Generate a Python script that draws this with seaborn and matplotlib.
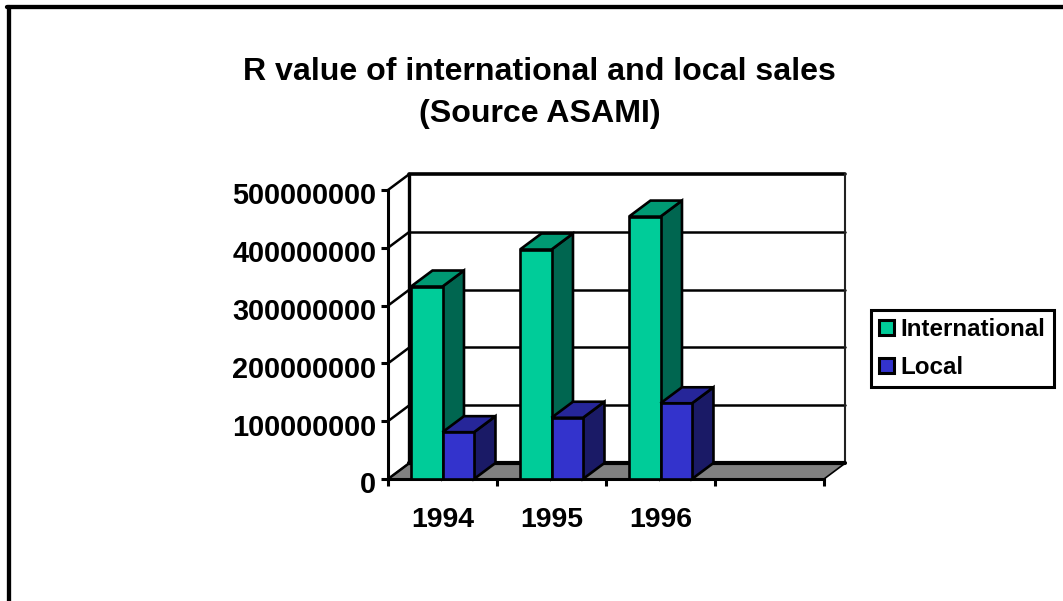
import matplotlib
matplotlib.use("Agg")
import matplotlib.pyplot as plt
import matplotlib.transforms as mtrans
from matplotlib.lines import Line2D
from matplotlib.patches import Polygon
import pandas as pd
import seaborn as sns

years = ["1994", "1995", "1996"]
international = [333000000, 397000000, 454000000]
local = [81000000, 106000000, 131000000]
series_names = ["International", "Local"]
y_ticks = [0, 100000000, 200000000, 300000000, 400000000, 500000000]

front_colors = {"International": "#00CC99", "Local": "#3333CC"}
top_colors = {"International": "#009973", "Local": "#262699"}
side_colors = {"International": "#006650", "Local": "#1A1A66"}

# depth of the fake 3d box, in data units
DEPTH_X = 0.197
DEPTH_Y = 27700000
EDGE = 1.9

sns.set_theme(style="white")
plt.rcParams["font.family"] = ["Liberation Sans", "DejaVu Sans"]
plt.rcParams["font.weight"] = "bold"

df = pd.DataFrame({
    "year": years * 2,
    "sales": international + local,
    "kind": [series_names[0]] * 3 + [series_names[1]] * 3,
})

W, H = 1063, 601
fig = plt.figure(figsize=(W / 100, H / 100), dpi=100)
ax = fig.add_axes([388 / W, 1 - 479 / H, 436 / W, 289 / H])
ax.patch.set_alpha(0)

sns.barplot(data=df, x="year", y="sales", hue="kind", order=years + [""],
            hue_order=series_names, palette=front_colors, saturation=1,
            width=0.578, gap=0, edgecolor="black", linewidth=EDGE, ax=ax)
ax.set_xlim(-0.5, 3.5)
ax.set_ylim(0, 500000000)
ax.set_xlabel("")
ax.set_ylabel("")

# floor and back wall
left, right = ax.get_xlim()
ax.add_patch(Polygon([(left, 0), (right, 0), (right + DEPTH_X, DEPTH_Y), (left + DEPTH_X, DEPTH_Y)],
                     closed=True, facecolor="#808080", edgecolor="black", linewidth=1.2,
                     zorder=1, clip_on=False))
ax.plot([left + DEPTH_X, right + DEPTH_X], [DEPTH_Y, DEPTH_Y], color="black", lw=3, zorder=1.1, clip_on=False)
for val in y_ticks[1:]:
    lw = 2.6 if val == y_ticks[-1] else 1.8
    ax.plot([left + DEPTH_X, right + DEPTH_X], [val + DEPTH_Y, val + DEPTH_Y],
            color="black", lw=lw, zorder=1, clip_on=False)
for val in y_ticks:
    ax.plot([left, left + DEPTH_X], [val, val + DEPTH_Y], color="black", lw=1.8, zorder=1, clip_on=False)
ax.plot([left + DEPTH_X] * 2, [DEPTH_Y, y_ticks[-1] + DEPTH_Y], color="black", lw=2.4, zorder=1, clip_on=False)
ax.plot([right + DEPTH_X] * 2, [DEPTH_Y, y_ticks[-1] + DEPTH_Y], color="#222222", lw=1.5, zorder=1, clip_on=False)

# give each bar its top and side faces, left to right
for s, (name, container) in enumerate(zip(series_names, ax.containers)):
    for i, bar in enumerate(container):
        x0, w, h = bar.get_x(), bar.get_width(), bar.get_height()
        if pd.isna(h):
            continue
        z = 3 + i * 3 + s * 1.5
        x1 = x0 + w
        ax.add_patch(Polygon([(x1, 0), (x1 + DEPTH_X, DEPTH_Y), (x1 + DEPTH_X, h + DEPTH_Y), (x1, h)],
                             closed=True, facecolor=side_colors[name], edgecolor="black",
                             linewidth=EDGE, zorder=z, clip_on=False))
        ax.add_patch(Polygon([(x0, h), (x1, h), (x1 + DEPTH_X, h + DEPTH_Y), (x0 + DEPTH_X, h + DEPTH_Y)],
                             closed=True, facecolor=top_colors[name], edgecolor="black",
                             linewidth=EDGE, zorder=z, clip_on=False))
        bar.set_zorder(z + 0.5)
        bar.set_clip_on(False)

sns.despine(ax=ax)
for side in ["left", "bottom"]:
    ax.spines[side].set_linewidth(2.2)
    ax.spines[side].set_color("black")
    ax.spines[side].set_zorder(2)

ax.set_yticks(y_ticks)
ax.set_yticklabels([str(v) for v in y_ticks])
ax.tick_params(axis="y", length=5, width=2.2, color="black", left=True, pad=3.4, labelsize=20.8, labelcolor="black")
ax.set_xticks(range(4))
ax.set_xticklabels(years + [""])
ax.set_xticks([k - 0.5 for k in range(5)], minor=True)
ax.tick_params(axis="x", which="major", length=0, pad=20, labelsize=20.4, labelcolor="black")
ax.tick_params(axis="x", which="minor", length=5, width=2.2, color="black", bottom=True)

# y labels sit a little under their ticks in the original
shift = mtrans.ScaledTranslation(0, -2.5 / 72, fig.dpi_scale_trans)
for lab in ax.get_yticklabels():
    lab.set_transform(lab.get_transform() + shift)

handles, labels = ax.get_legend_handles_labels()
leg = ax.legend(handles, labels, loc="upper left", bbox_to_anchor=(871 / W, 1 - 310 / H),
                bbox_transform=fig.transFigure, fontsize=17.4, frameon=True, fancybox=False,
                edgecolor="black", framealpha=1, borderaxespad=0, borderpad=0.33,
                handlelength=0.62, handleheight=0.62, handletextpad=0.28, labelspacing=0.62)
leg.get_frame().set_linewidth(2.2)
leg.set_zorder(30)
for text in leg.get_texts():
    text.set_color("black")
for patch in leg.get_patches():
    patch.set_linewidth(2.2)

fig.text(539.5 / W, 1 - 93 / H, "R value of international and local sales\n(Source ASAMI)",
         ha="center", va="center", fontsize=23.1, fontweight="bold", color="black", linespacing=1.48)

# slide frame, only top and left show in the crop
fig.add_artist(Line2D([9 / W, 9 / W], [0, 1 - 7 / H], color="black", lw=3.1))
fig.add_artist(Line2D([7 / W, 1], [1 - 7 / H, 1 - 7 / H], color="black", lw=3.1))

fig.savefig("out.png", dpi=100)
